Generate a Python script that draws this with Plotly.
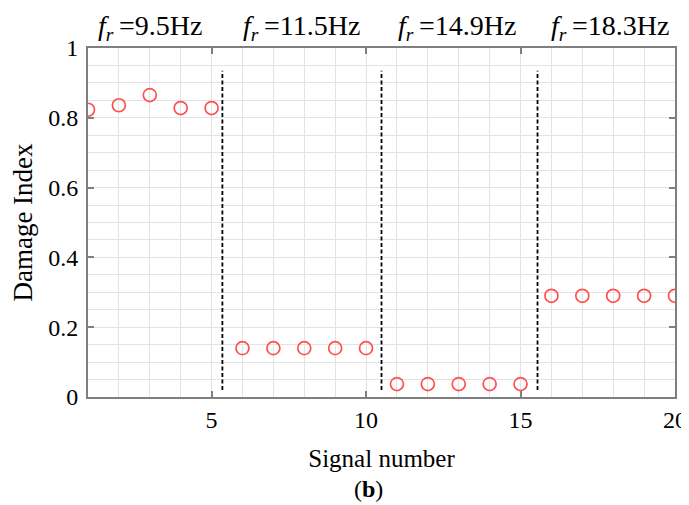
import plotly.graph_objects as go

signal = list(range(1, 21))
damage_index = [0.823, 0.836, 0.865, 0.828, 0.828,
                0.140, 0.140, 0.140, 0.140, 0.140,
                0.037, 0.037, 0.037, 0.037, 0.037,
                0.290, 0.290, 0.290, 0.290, 0.290]
separators = [5.35, 10.5, 15.55]
sep_y = [0.02, 0.935]
freq_labels = ["9.5Hz", "11.5Hz", "14.9Hz", "18.3Hz"]
freq_label_x = [3.0, 7.9, 12.95, 17.9]

FONT = "Liberation Serif"
fig = go.Figure()

for s in separators:
    fig.add_trace(go.Scatter(x=[s, s], y=sep_y, mode="lines",
                             line=dict(color="black", width=1.8, dash="4px,2.5px"),
                             showlegend=False, hoverinfo="skip"))

fig.add_trace(go.Scatter(x=signal, y=damage_index, mode="markers",
                         marker=dict(symbol="circle-open", size=13, color="#ff5050",
                                     line=dict(width=1.7, color="#ff5050")),
                         showlegend=False))

for lab, xv in zip(freq_labels, freq_label_x):
    fig.add_annotation(x=xv, xref="x", y=1.0, yref="paper", yanchor="bottom", yshift=1,
                       text="<i>f</i><sub><i>r</i></sub>&#8201;=" + lab, showarrow=False,
                       font=dict(family=FONT, size=28, color="black"))

fig.add_annotation(x=0.5, xref="paper", xshift=-13, y=0, yref="paper", yshift=-92,
                   yanchor="middle", text="(<b>b</b>)", showarrow=False,
                   font=dict(family=FONT, size=24, color="black"))

axis_common = dict(showline=True, linecolor="#7f7f7f", linewidth=2, mirror="ticks",
                   ticks="inside", ticklen=6, tickcolor="#7f7f7f", tickwidth=1.5,
                   gridcolor="#e3e3e3", gridwidth=1, zeroline=False, automargin=False,
                   tickfont=dict(family=FONT, size=24, color="black"))

fig.update_xaxes(range=[1, 20], tickvals=[5, 10, 15, 20],
                 minor=dict(dtick=1, tick0=0, showgrid=True, gridcolor="#e3e3e3", ticks=""),
                 title=dict(text="Signal number", font=dict(family=FONT, size=25, color="black"), standoff=18),
                 **axis_common)
fig.update_yaxes(range=[0, 1], tickvals=[0, 0.2, 0.4, 0.6, 0.8, 1], ticktext=["0", "0.2", "0.4", "0.6", "0.8", "1"],
                 ticklabelstandoff=3,
                 minor=dict(dtick=0.05, tick0=0, showgrid=True, gridcolor="#e3e3e3", ticks=""),
                 title=dict(text="Damage Index", font=dict(family=FONT, size=27, color="black"), standoff=8),
                 **axis_common)

# the page body adds an 8px offset, so the figure is drawn 8px smaller with shifted margins
fig.update_layout(width=681, height=497, plot_bgcolor="white", paper_bgcolor="white",
                  margin=dict(l=80, r=14, t=40, b=107.5), showlegend=False)

fig.write_html("out.html")
